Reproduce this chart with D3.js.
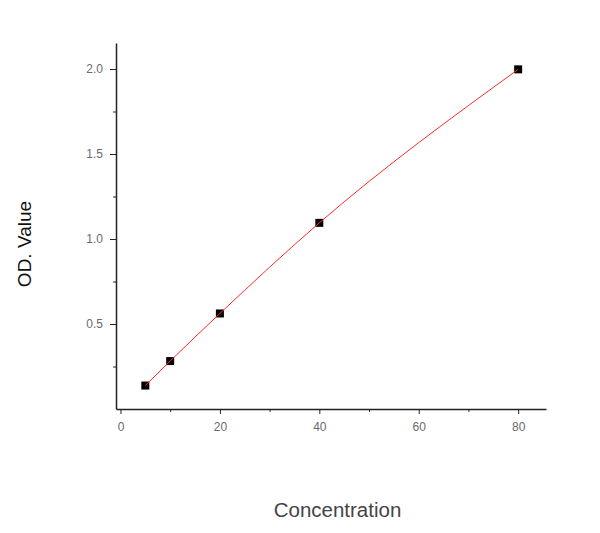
<!DOCTYPE html>
<meta charset="utf-8">
<style>
body {
  margin: 0;
  background: #fff;
  font-family: "Liberation Sans", Arial, sans-serif;
}
svg {
  display: block;
}
.tick text {
  fill: #6a6a6a;
  font-size: 12px;
  font-family: "Liberation Sans", Arial, sans-serif;
}
.axis-title {
  font-size: 19px;
}
</style>
<body>
<div id="chart"></div>
<script src="https://d3js.org/d3.v7.min.js"></script>
<script>

// data
var concentration = [5, 10, 20, 40, 80];
var odValue = [0.138, 0.282, 0.562, 1.095, 1.998];
var xTicks = [0, 20, 40, 60, 80];
var xMinor = [10, 30, 50, 70];
var yTicks = [0.5, 1.0, 1.5, 2.0];
var yMinor = [0.25, 0.75, 1.25, 1.75];

var width = 600, height = 533;
var plot = {left: 116, right: 546, top: 43, bottom: 409};

var x = d3.scaleLinear().domain([-0.9, 85.6]).range([plot.left, plot.right]);
var y = d3.scaleLinear().domain([0, 2.153]).range([plot.bottom, plot.top]);

var svg = d3.select("#chart").append("svg")
    .attr("width", width)
    .attr("height", height);

var points = concentration.map(function(c, i) { return {c: c, v: odValue[i]}; });

// minor ticks first
svg.append("g")
    .attr("transform", "translate(0," + plot.bottom + ")")
    .call(d3.axisBottom(x).tickValues(xMinor).tickSize(3).tickFormat(""))
    .call(g => g.select(".domain").remove())
    .selectAll("line").attr("stroke", "#222");

svg.append("g")
    .attr("transform", "translate(" + plot.left + ",0)")
    .call(d3.axisLeft(y).tickValues(yMinor).tickSize(3).tickFormat(""))
    .call(g => g.select(".domain").remove())
    .selectAll("line").attr("stroke", "#222");

// x axis
var xAxis = svg.append("g")
    .attr("transform", "translate(0," + plot.bottom + ")")
    .call(d3.axisBottom(x).tickValues(xTicks).tickSize(5).tickSizeOuter(0).tickPadding(8));
xAxis.select(".domain").attr("stroke", "#222").attr("stroke-width", 1.5);
xAxis.selectAll(".tick line").attr("stroke", "#222");

// y axis
var yAxis = svg.append("g")
    .attr("transform", "translate(" + plot.left + ",0)")
    .call(d3.axisLeft(y).tickValues(yTicks).tickSize(6).tickSizeOuter(0).tickPadding(7)
      .tickFormat(d3.format(".1f")));
yAxis.select(".domain").attr("stroke", "#222").attr("stroke-width", 1.5);
yAxis.selectAll(".tick line").attr("stroke", "#222");

// markers
svg.selectAll("rect.pt")
    .data(points)
  .enter().append("rect")
    .attr("class", "pt")
    .attr("x", d => x(d.c) - 4)
    .attr("y", d => y(d.v) - 4)
    .attr("width", 8)
    .attr("height", 8)
    .attr("fill", "#000");

// fitted curve
var line = d3.line()
    .x(d => x(d.c))
    .y(d => y(d.v))
    .curve(d3.curveMonotoneX);

svg.append("path")
    .datum(points)
    .attr("d", line)
    .attr("fill", "none")
    .attr("stroke", "#ff2a2a")
    .attr("stroke-width", 1);

// axis titles
svg.append("text")
    .attr("class", "axis-title")
    .attr("text-anchor", "middle")
    .attr("transform", "translate(31,244) rotate(-90)")
    .attr("fill", "#111")
    .text("OD. Value");

svg.append("text")
    .attr("class", "axis-title")
    .attr("text-anchor", "middle")
    .attr("x", 337.5)
    .attr("y", 517)
    .attr("fill", "#444")
    .style("font-size", "20.5px")
    .text("Concentration");

</script>
</body>
